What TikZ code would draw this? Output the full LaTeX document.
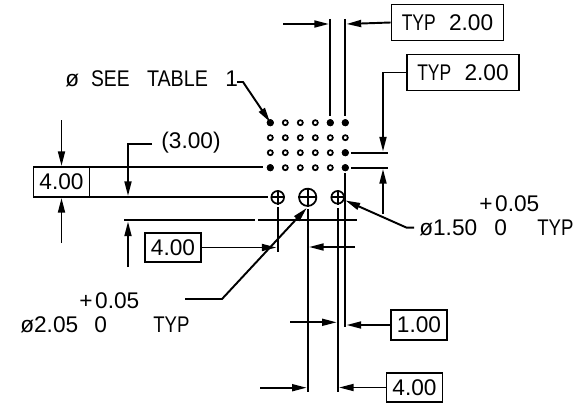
\documentclass[tikz,border=0pt]{standalone}
\usepackage{fontspec}
\setmainfont{Liberation Sans}
\usetikzlibrary{arrows.meta}
\newcommand{\nw}[2][0.8]{\scalebox{#1}[1]{#2}}
\tikzset{
  ln/.style={line width=1.45pt,black},
  dim/.style={ln,-{Triangle[length=11pt,width=5.2pt]}},
  valbox/.style={draw,line width=1.45pt,minimum height=22pt,inner sep=0pt,font=\fontsize{17}{17}\selectfont},
  lbl/.style={inner sep=0pt,font=\fontsize{17}{17}\selectfont},
  fdot/.style={circle,fill=black,minimum size=5.4pt,inner sep=0pt},
  odot/.style={circle,draw,line width=1.3pt,minimum size=3.8pt,inner sep=0pt},
  hole/.style={circle,draw,line width=1.3pt,inner sep=0pt},
}
\begin{document}
\begin{tikzpicture}[x=0.75pt,y=-0.75pt]
\useasboundingbox (0,0) rectangle (577,403);
% dot grid
\foreach \j in {0,1,2,3}{\foreach \i in {0,...,5}{
  \node[odot] (d\i\j) at ({270.3+15*\i},{122.7+15*\j}) {};
}}
\foreach \i/\j in {0/0,4/0,5/0,5/2,0/3,5/3}{
  \node[fdot] (f\i\j) at ({270.3+15*\i},{122.7+15*\j}) {};
}
% holes
\node[hole,minimum size=9.5pt] (h1) at (277.7,197.3) {};
\node[hole,minimum size=13pt] (h2) at (307.7,197.3) {};
\node[hole,minimum size=9.5pt] (h3) at (337.7,197.3) {};
\foreach \h in {h1,h2,h3}{
  \draw[line width=1.3pt] (\h.west) -- (\h.east);
  \draw[line width=1.3pt] (\h.north) -- (\h.south);
}
% boxes
\node[valbox,minimum width=84pt,minimum height=27pt] (b1) at (447.5,22.5) {\nw[0.77]{TYP}\hspace{10pt}2.00};
\node[valbox,minimum width=84pt,minimum height=27pt] (b2) at (463,72.5) {\nw[0.77]{TYP}\hspace{10pt}2.00};
\node[valbox,minimum width=42pt] (b3) at (61.5,182) {4.00};
\node[valbox,minimum width=42pt] (b4) at (173,247.5) {4.00};
\node[valbox,minimum width=42pt] (b5) at (419,325) {1.00};
\node[valbox,minimum width=42pt] (b6) at (414.5,387.5) {4.00};
% texts
\node[lbl,anchor=west] (t1) at (65,79) {ø\hspace{9pt}\nw[0.85]{SEE}\hspace{13pt}\nw[0.87]{TABLE}\hspace{13pt}1};
\node[lbl] (t2) at (191,143) {(3.00)};
\node[lbl,anchor=west] (t3) at (479,204) {+\hspace{2pt}0.05};
\node[lbl,anchor=west] (t4) at (419,228) {ø1.50};
\node[lbl,anchor=west] (t5) at (494,228) {0};
\node[lbl,anchor=west] (t6) at (537,228) {\nw[0.82]{TYP}};
\node[lbl,anchor=west] (t7) at (79,300.5) {+\hspace{2pt}0.05};
\node[lbl,anchor=west] (t8) at (20,325) {ø2.05};
\node[lbl,anchor=west] (t9) at (94,325) {0};
\node[lbl,anchor=west] (t10) at (153,325) {\nw[0.82]{TYP}};
% free ends
\foreach \n/\x/\y in {
 a/330/19, b/330/116, c/345/19, e/345/116, g/283/24, k/329/24, l/346.5/24,
 m/383/74, n/383/151.5, o/351/152.7, p/388/152.7, q/351/167.7, r/388/167.7, s/383/214, t/383/169,
 u/345/173, v/345/326.7,
 w/89.5/167, x/263/167, y/57/197, z/268/197,
 aa/61.5/120, ab/61.5/166, ac/61.5/243, ad/61.5/198,
 ae/152/144, af/128/144, ag/128/196,
 ah/124/220, ai/255/220, aj/258/220, ak/357/220, al/128/267, am/128/221.5,
 an/277.7/207, ao/277.7/251.7, ap/276.5/247.5,
 aq/185/299, ar/222/299, as/306.7/208,
 at/307.7/209, au/307.7/392, av/337.7/208, aw/337.7/392,
 ax/355/247, ay/309/247, az/290/322.3, ba/336.7/322.3, bb/346.5/325,
 bc/260/387.7, bd/306.7/387.7, be/339/387.5,
 bf/414/227.7, bg/406.7/227.7, bh/345.5/200.5,
 bi/237/82, bj/243/82, bk/270/122}{
  \coordinate (\n) at (\x,\y);
}
% extension lines
\foreach \p/\q in {a/b,c/e,o/p,q/r,u/v,w/x,y/z,ah/ai,aj/ak,an/ao,at/au,av/aw}{
  \draw[ln] (\p) -- (\q);
}
% dimension arrows
\foreach \p/\q in {g/k,aa/ab,ac/ad,s/t,al/am,ax/ay,az/ba,bc/bd}{
  \draw[dim] (\p) -- (\q);
}
\draw[dim] (b1.west) -- (l);
\draw[dim] (b2.west) -| (n);
\draw[dim] (ae) -| (ag);
\draw[dim] (b4.east) -- (ap);
\draw[dim] (aq) -- (ar) -- (as);
\draw[dim] (b5.west) -- (bb);
\draw[dim] (b6.west) -- (be);
\draw[dim] (bf) -- (bg) -- (bh);
\draw[dim] (bi) -- (bj) -- (bk);
\end{tikzpicture}
\end{document}
